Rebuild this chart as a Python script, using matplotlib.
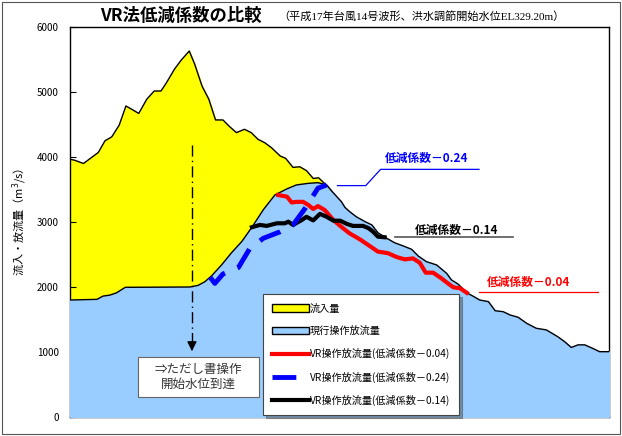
import matplotlib.pyplot as plt
import matplotlib.patches as mpatches
from matplotlib.lines import Line2D

plt.rcParams['font.family'] = ['Noto Sans CJK JP', 'DejaVu Sans']

# 流入量 (時刻[h], 流量[m3/s])
inflow_t = [0, 0.7, 2.0, 4.2, 5.2, 6.2, 7.3, 8.3, 9.4, 10.2, 11.4, 12.5, 13.5,
            14.3, 15.5, 16.5, 17.7, 18.5, 19.6, 20.6, 21.6, 22.7, 23.7, 24.7,
            25.9, 26.9, 27.9, 28.9, 29.9, 31.2, 32.0, 33.1, 34.1, 35.1, 36.1,
            36.9, 38.2, 38.8]
inflow_q = [3965, 3950, 3900, 4070, 4250, 4310, 4490, 4785, 4720, 4670, 4890,
            5015, 5015, 5140, 5350, 5490, 5630, 5430, 5090, 4890, 4570, 4570,
            4466, 4375, 4426, 4375, 4272, 4220, 4143, 4015, 3980, 3840, 3850,
            3790, 3670, 3680, 3550, 3480]

# 現行操作放流量
cur_t = [0, 4.0, 4.9, 5.9, 6.9, 8.2, 17.8, 19.0, 20.0, 21.0, 22.5, 24.0, 25.5,
         27.0, 28.7, 30.4, 32.2, 33.6, 35.4, 36.8, 38.1, 38.8, 39.6, 40.3,
         40.8, 41.5, 42.5, 43.8, 44.8, 45.7, 47.0, 48.2, 49.5, 50.7, 51.7,
         52.9, 54.4, 55.9, 56.6, 57.6, 58.9, 59.8, 60.8, 62.1, 63.1, 64.3,
         65.3, 66.5, 67.8, 69.2, 70.7, 72.4, 73.4, 74.4, 75.4, 76.4, 77.6,
         78.6, 80.0]
cur_q = [1800, 1810, 1860, 1875, 1910, 1995, 2000, 2025, 2080, 2170, 2340,
         2530, 2700, 2920, 3190, 3415, 3510, 3570, 3595, 3605, 3570, 3480,
         3390, 3310, 3225, 3160, 3080, 3005, 2955, 2835, 2750, 2680, 2630,
         2580, 2475, 2390, 2340, 2210, 2110, 2045, 1910, 1860, 1800, 1775,
         1635, 1620, 1570, 1535, 1440, 1365, 1340, 1235, 1160, 1070, 1110,
         1110, 1055, 1005, 1005]

# VR操作放流量 低減係数0.04
vr04_t = [30.9, 32.2, 32.9, 33.6, 34.6, 35.4, 36.1, 36.8, 37.8, 39.1, 40.1,
          41.5, 43.0, 44.5, 45.7, 47.2, 48.5, 49.7, 50.9, 51.9, 52.8, 53.9,
          55.1, 56.1, 56.9, 57.9, 58.9]
vr04_q = [3415, 3390, 3300, 3310, 3310, 3260, 3200, 3245, 3185, 3030, 2940,
          2825, 2735, 2630, 2545, 2520, 2460, 2425, 2440, 2375, 2220, 2220,
          2135, 2055, 1995, 1980, 1910]

# VR操作放流量 低減係数0.24
vr24_t = [20.8, 21.5, 22.7, 25.0, 26.7, 28.7, 31.2, 33.1, 34.9, 36.8, 38.1]
vr24_q = [2150, 2055, 2200, 2300, 2595, 2750, 2850, 2955, 3210, 3520, 3570]

# VR操作放流量 低減係数0.14
vr14_t = [27.0, 28.2, 29.2, 30.7, 31.9, 32.4, 33.1, 34.4, 35.1, 36.1, 37.1,
          38.1, 39.1, 40.1, 41.1, 42.0, 43.5, 44.3, 45.0, 45.7, 46.7]
vr14_q = [2920, 2955, 2940, 2980, 2980, 3005, 2955, 3030, 3080, 3025, 3125,
          3080, 3020, 3020, 2970, 2940, 2940, 2905, 2850, 2775, 2765]

# ただし書操作開始水位到達時刻
proviso_t = 18.1

fig = plt.figure(figsize=(6.22, 4.36), dpi=100)
ax = fig.add_axes([70 / 622, 19 / 436, 539 / 622, 390 / 436])

# 図全体の枠
fig.patches.append(mpatches.Rectangle((0.003, 0.004), 0.994, 0.992,
                                      transform=fig.transFigure, fill=False,
                                      edgecolor='#555555', linewidth=0.8))

ax.fill_between(inflow_t, inflow_q, 0, color='#FFFF00', zorder=1)
ax.plot(inflow_t, inflow_q, color='black', linewidth=1.0, zorder=2)
ax.fill_between(cur_t, cur_q, 0, color='#99CCFF', zorder=3)
ax.plot(cur_t, cur_q, color='black', linewidth=1.0, zorder=4)

ax.plot(vr04_t, vr04_q, color='#FF0000', linewidth=3.0, zorder=5)
ax.plot(vr14_t, vr14_q, color='black', linewidth=3.0, zorder=6)
ax.plot(vr24_t, vr24_q, color='#0000FF', linewidth=3.5, zorder=7,
        dashes=(4.6, 2.8))

# ただし書操作の矢印
ax.plot([proviso_t, proviso_t], [4185, 1150], color='black', linewidth=1.0,
        linestyle=(0, (8, 3, 1, 3)), zorder=8)
ax.annotate('', xy=(proviso_t, 970), xytext=(proviso_t, 1100),
            arrowprops=dict(arrowstyle='-|>', color='black', lw=1.0,
                            mutation_scale=14), zorder=8)
ax.add_patch(mpatches.Rectangle((10.1, 308), 18.0, 615, facecolor='white',
                                edgecolor='#666666', linewidth=0.8, zorder=9))
ax.text(19.1, 615, '⇒ただし書操作\n開始水位到達', ha='center', va='center',
        fontsize=9, color='#333333', linespacing=1.2, zorder=10)

# 低減係数の注記
ax.text(53.0, 3985, '低減係数－0.24', color='#0000FF', fontsize=8.5,
        fontweight='bold', ha='center', va='center', zorder=9)
ax.plot([39.7, 43.9, 46.1, 60.7], [3560, 3560, 3810, 3810],
        color='#0000FF', linewidth=0.9, zorder=9)
ax.text(57.4, 2880, '低減係数－0.14', color='black', fontsize=8.5,
        fontweight='bold', ha='center', va='center', zorder=9)
ax.plot([48.2, 65.8], [2770, 2770], color='#555555', linewidth=1.2, zorder=9)
ax.text(68.1, 2070, '低減係数－0.04', color='#FF0000', fontsize=8.5,
        fontweight='bold', ha='center', va='center', zorder=9)
ax.plot([60.7, 78.3], [1930, 1930], color='#FF0000', linewidth=0.9, zorder=9)

# 凡例
handles = [
    mpatches.Patch(facecolor='#FFFF00', edgecolor='black', linewidth=1.0),
    mpatches.Patch(facecolor='#99CCFF', edgecolor='black', linewidth=1.0),
    Line2D([], [], color='#FF0000', linewidth=3.0),
    Line2D([], [], color='#0000FF', linewidth=3.5, dashes=(4.9, 20)),
    Line2D([], [], color='black', linewidth=3.0),
]
labels = ['流入量', '現行操作放流量', 'VR操作放流量(低減係数－0.04)',
          'VR操作放流量(低減係数－0.24)', 'VR操作放流量(低減係数－0.14)']
leg = ax.legend(handles, labels, loc='lower left',
                bbox_to_anchor=(193 / 539, 2 / 390), fontsize=7.3,
                frameon=True, fancybox=False, shadow=True,
                handlelength=3.6, handleheight=0.7, handletextpad=0.1,
                labelspacing=1.2, borderpad=0.9, borderaxespad=0)
leg.get_frame().set_edgecolor('#444444')
leg.get_frame().set_linewidth(0.8)
leg.set_zorder(10)

ax.set_xlim(0, 80)
ax.set_ylim(0, 6000)
ax.set_xticks([])
ax.set_yticks(range(0, 6001, 1000))
ax.tick_params(axis='y', direction='in', length=4, labelsize=7, pad=8)
for s in ax.spines.values():
    s.set_linewidth(1.0)

ax.set_ylabel('流入・放流量（m$^3$/s）', fontsize=8, labelpad=6)

fig.text(100 / 622, 1 - 16 / 436, 'VR法低減係数の比較', fontsize=12.5,
         fontweight='bold', ha='left', va='center')
fig.text(278 / 622, 1 - 16 / 436, '（平成17年台風14号波形、洪水調節開始水位EL329.20m）',
         fontsize=8, ha='left', va='center',
         family=['Liberation Serif', 'Noto Sans CJK JP'])

fig.savefig('out.png', dpi=100)
